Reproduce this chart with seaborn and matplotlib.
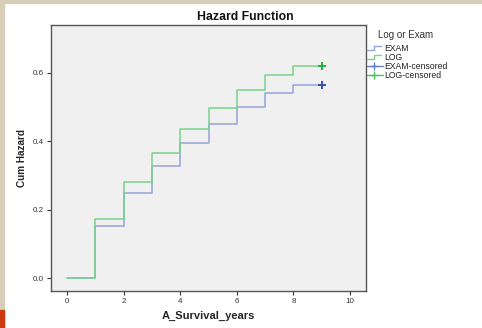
import numpy as np
import pandas as pd
import matplotlib
matplotlib.use("Agg")
import matplotlib.pyplot as plt
import seaborn as sns
from matplotlib.lines import Line2D
from matplotlib.legend_handler import HandlerBase
from matplotlib.patches import Rectangle

# ---- data ----
times = [0, 1, 2, 3, 4, 5, 6, 7, 8, 9]
exam_hazard = [0.0, 0.153, 0.248, 0.329, 0.394, 0.451, 0.500, 0.540, 0.564, 0.564]
log_hazard = [0.0, 0.174, 0.281, 0.365, 0.436, 0.496, 0.549, 0.594, 0.620, 0.620]
groups = ["EXAM", "LOG"]
censor_time = 9
x_ticks = [0, 2, 4, 6, 8, 10]
y_ticks = [0.0, 0.2, 0.4, 0.6]

df = pd.DataFrame({
    "A_Survival_years": times * 2,
    "Cum Hazard": exam_hazard + log_hazard,
    "group": ["EXAM"] * len(times) + ["LOG"] * len(times),
})
cens = pd.DataFrame({
    "A_Survival_years": [censor_time, censor_time],
    "Cum Hazard": [exam_hazard[-1], log_hazard[-1]],
    "group": groups,
})

line_colors = {"EXAM": "#94a4da", "LOG": "#78d28a"}
mark_colors = {"EXAM": "#3350b0", "LOG": "#20b040"}

sns.set_style("white")
plt.rcParams["font.family"] = ["Liberation Sans", "DejaVu Sans"]

fig = plt.figure(figsize=(4.82, 3.28), dpi=100)
fig.patch.set_facecolor("white")
ax = fig.add_axes([51 / 482, 1 - 291 / 328, (366 - 51) / 482, (291 - 25) / 328])
ax.set_facecolor("#f0f0f0")

sns.lineplot(data=df, x="A_Survival_years", y="Cum Hazard", hue="group",
             palette=line_colors, drawstyle="steps-post", linewidth=1.1,
             ax=ax, legend=False, estimator=None)
for g in groups:
    sub = cens[cens["group"] == g]
    ax.scatter(sub["A_Survival_years"], sub["Cum Hazard"], marker="+",
               s=26, linewidths=1.4, color=mark_colors[g], zorder=5)

ax.set_xlim(-0.56, 10.56)
ax.set_ylim(-0.038, 0.74)
ax.set_xticks(x_ticks)
ax.set_yticks(y_ticks)
ax.set_xticklabels([str(t) for t in x_ticks])
ax.set_yticklabels([f"{t:.1f}" for t in y_ticks])
ax.tick_params(axis="both", direction="out", length=3, width=0.8,
               labelsize=5.8, colors="#333333", pad=2,
               bottom=True, left=True)
for sp in ax.spines.values():
    sp.set_color("#555555")
    sp.set_linewidth(1.0)

ax.set_xlabel("A_Survival_years", fontsize=8, fontweight="bold", labelpad=4)
ax.set_ylabel("Cum Hazard", fontsize=7.2, fontweight="bold", labelpad=4)
fig.text(245 / 482, 1 - 17 / 328, "Hazard Function", fontsize=8.8,
         fontweight="bold", ha="center", va="center", color="#111111")


class StepHandler(HandlerBase):
    def create_artists(self, legend, orig_handle, xdescent, ydescent,
                       width, height, fontsize, trans):
        xs = [0, width * 0.45, width * 0.45, width * 0.85]
        ys = [height * 0.2, height * 0.2, height * 0.85, height * 0.85]
        l = Line2D(xs, ys, color=orig_handle.get_color(), linewidth=1.0,
                   transform=trans)
        return [l]


class CensHandler(HandlerBase):
    def create_artists(self, legend, orig_handle, xdescent, ydescent,
                       width, height, fontsize, trans):
        l = Line2D([0, width], [height / 2, height / 2],
                   color=orig_handle.get_color(), linewidth=1.0, transform=trans)
        m = Line2D([width * 0.4], [height / 2], marker="+", markersize=6,
                   markeredgewidth=1.0, color=orig_handle.get_color(),
                   linestyle="none", transform=trans)
        return [l, m]


h_exam = Line2D([], [], color=line_colors["EXAM"])
h_log = Line2D([], [], color=line_colors["LOG"])
h_ec = Line2D([], [], color="#6a7fcc")
h_lc = Line2D([], [], color="#50c060")
leg = fig.legend([h_exam, h_log, h_ec, h_lc],
                 ["EXAM", "LOG", "EXAM-censored", "LOG-censored"],
                 handler_map={h_exam: StepHandler(), h_log: StepHandler(),
                              h_ec: CensHandler(), h_lc: CensHandler()},
                 loc="upper left", bbox_to_anchor=(367 / 482, 1 - 44 / 328),
                 frameon=False, fontsize=6.2,
                 handlelength=1.9, handletextpad=0.05,
                 labelspacing=0.0, borderpad=0.0, borderaxespad=0)
for t in leg.get_texts():
    t.set_color("#222222")
fig.text(378 / 482, 1 - 35 / 328, "Log or Exam", fontsize=7,
         ha="left", va="center", color="#333333")

# frame decorations of the screenshot
fig.patches.append(Rectangle((0, 0), 4 / 482, 1, transform=fig.transFigure,
                             color="#d8cdb6", zorder=0))
fig.patches.append(Rectangle((0, 1 - 3 / 328), 1, 3 / 328, transform=fig.transFigure,
                             color="#d8cdb6", zorder=0))
fig.patches.append(Rectangle((0, 0), 4 / 482, 18 / 328, transform=fig.transFigure,
                             color="#cc3a10", zorder=0))

fig.savefig("out.png", dpi=100, facecolor=fig.get_facecolor())
